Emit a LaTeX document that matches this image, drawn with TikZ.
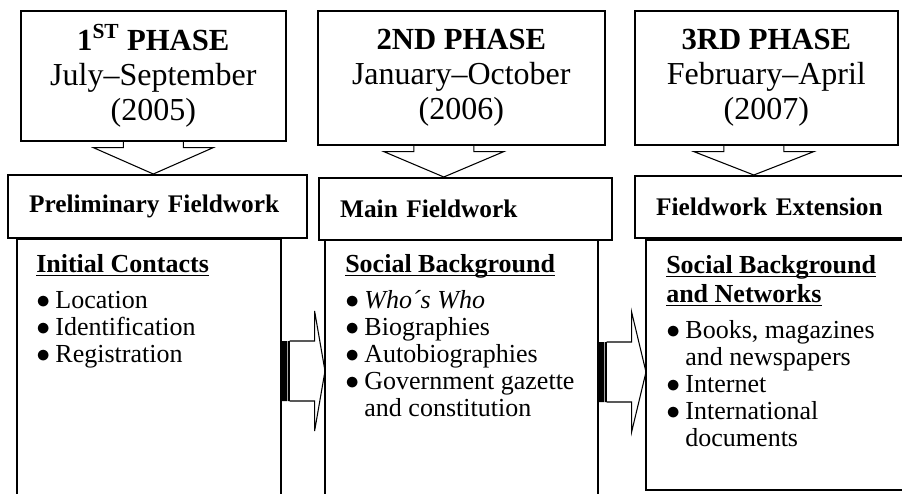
\documentclass[tikz,border=0pt]{standalone}
\usepackage{fontspec}
\setmainfont{Liberation Serif}
\usetikzlibrary{calc}
\newcommand{\phasefont}{\fontsize{24}{26}\selectfont}
\newcommand{\fieldfont}{\fontsize{19}{22}\selectfont\bfseries}
\newcommand{\listfont}{\fontsize{19.5}{20.25}\selectfont}
\newcommand{\headul}[1]{\setbox0\hbox{\bfseries #1}\rlap{\rule[-3pt]{\wd0}{0.9pt}}\box0}
\newcommand{\itemdot}{$\bullet$}
\tikzset{
phase/.style={
  draw,
  line width=1.2pt,
  anchor=north west,
  align=center,
  inner sep=0pt,
  font=\phasefont
  },
field/.style={
  draw,
  line width=1.2pt,
  anchor=north west,
  align=left,
  inner xsep=16pt,
  font=\fieldfont
  },
detail/.style={
  draw,
  line width=1.2pt,
  anchor=north west,
  inner sep=0pt
  },
listtext/.style={anchor=base west, inner sep=0pt, font=\listfont},
blockarrow/.style={draw, line width=0.8pt, line join=miter}
}

\begin{document}
\begin{tikzpicture}[x=0.75pt, y=-0.75pt]
\useasboundingbox (0,0) rectangle (902,493);
\fill[white] (0,0) rectangle (902,493);
\clip (0,0) rectangle (902,493);
% phases
\node[phase, minimum width=198.75pt, minimum height=97.5pt] (ph1) at (20,10)
  {{\fontsize{23}{26}\selectfont\bfseries 1\textsuperscript{ST} PHASE}\\July--September\\(2005)};
\node[phase, minimum width=215.25pt, minimum height=100.5pt] (ph2) at (317,10)
  {{\fontsize{23}{26}\selectfont\bfseries 2ND PHASE}\\January--October\\(2006)};
\node[phase, minimum width=197.25pt, minimum height=100.5pt] (ph3) at (634,10)
  {{\fontsize{23}{26}\selectfont\bfseries 3RD PHASE}\\February--April\\(2007)};
% fieldwork
\node[field, text width=192.25pt, minimum height=47.25pt] (fw1) at (7,174) {Preliminary Fieldwork};
\node[field, text width=187.75pt, minimum height=46.5pt] (fw2) at (318,177) {Main Fieldwork};
\node[field, text width=175pt, minimum height=46.5pt] (fw3) at (634,175) {Fieldwork Extension};
% details
\node[detail, minimum width=198pt, minimum height=196.5pt] (det1) at (16,238) {};
\node[detail, minimum width=204.75pt, minimum height=195.75pt] (det2) at (324,239) {};
\node[detail, minimum width=198.75pt, minimum height=187.5pt] (det3) at (645,239) {};
\node[listtext] (l1) at ($(det1.north west)+(20,34)$) {%
  \begin{tabular}[t]{@{}l@{\hspace{4pt}}l@{}}
  \multicolumn{2}{@{}l@{}}{\headul{Initial Contacts}}\\[6.75pt]
  \itemdot & Location\\
  \itemdot & Identification\\
  \itemdot & Registration
  \end{tabular}};
\node[listtext] (l2) at ($(det2.north west)+(21,33)$) {%
  \begin{tabular}[t]{@{}l@{\hspace{4pt}}l@{}}
  \multicolumn{2}{@{}l@{}}{\headul{Social Background}}\\[6.75pt]
  \itemdot & \textit{Who´s Who}\\
  \itemdot & Biographies\\
  \itemdot & Autobiographies\\
  \itemdot & Government gazette\\
           & and constitution
  \end{tabular}};
\node[listtext] (l3) at ($(det3.north west)+(21,34)$) {%
  \begin{tabular}[t]{@{}l@{\hspace{4pt}}l@{}}
  \multicolumn{2}{@{}l@{}}{\headul{Social Background}}\\[1.5pt]
  \multicolumn{2}{@{}l@{}}{\headul{and Networks}}\\[6.75pt]
  \itemdot & Books, magazines\\
           & and newspapers\\
  \itemdot & Internet\\
  \itemdot & International\\
           & documents
  \end{tabular}};
% arrows
\foreach \a/\b/\dx in {ph1/fw1/0, ph2/fw2/-17.5, ph3/fw3/-12.5}
  \draw[blockarrow] let \p1=($(\a.south)+(\dx,0)$), \p2=(\b.north) in
    (\x1-22.5pt,\y1) -- (\x1-22.5pt,\y1-4.5pt) -- (\x1-45pt,\y1-4.5pt)
    -- (\x1,\y2) -- (\x1+45pt,\y1-4.5pt) -- (\x1+22.5pt,\y1-4.5pt) -- (\x1+22.5pt,\y1);
\foreach \a/\b in {det1/det2, det2/det3}
{
  \fill let \p1=($(\a.north east)+(0,133)$) in
    (\x1-0.3pt,\y1-22.5pt) rectangle (\x1+4.3pt,\y1+22.5pt)
    (\x1+4.9pt,\y1-22.5pt) rectangle (\x1+6.2pt,\y1+22.5pt);
  \draw[blockarrow] let \p1=($(\a.north east)+(0,133)$), \p2=(\b.west) in
    (\x1+6pt,\y1+22.5pt) -- (\x1+24.75pt,\y1+22.5pt) -- (\x1+24.75pt,\y1+45pt)
    -- (\x2+0.75pt,\y1) -- (\x1+24.75pt,\y1-45pt) -- (\x1+24.75pt,\y1-22.5pt) -- (\x1+6pt,\y1-22.5pt);
}
\end{tikzpicture}
\end{document}
